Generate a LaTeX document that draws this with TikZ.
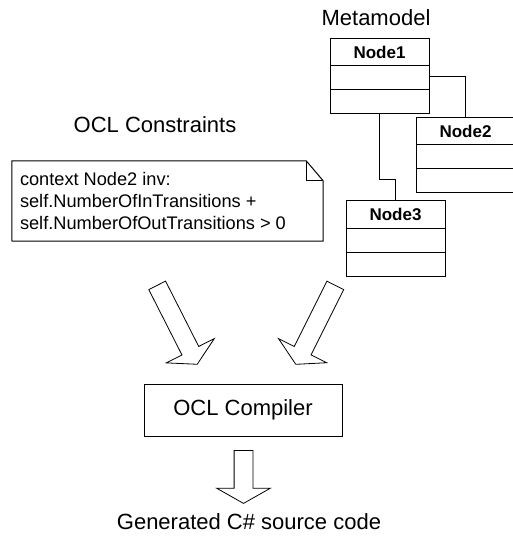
\documentclass[tikz,border=0pt]{standalone}
\usepackage{fontspec}
\setmainfont{Liberation Sans}
\usetikzlibrary{shapes.multipart,shapes.arrows}
\tikzstyle{lbl}=[inner sep=0pt,font=\fontsize{22}{26}\selectfont]
\tikzstyle{cls}=[rectangle split,rectangle split parts=3,draw=black,line width=1pt,minimum width=99pt,inner xsep=4pt,inner ysep=6.8pt,rectangle split empty part height=9.4pt,rectangle split empty part depth=0pt,font=\fontsize{17}{20}\selectfont\bfseries]
\tikzstyle{lnk}=[draw=black,line width=1pt]
\tikzstyle{notebox}=[rectangle,minimum width=311pt,minimum height=80pt,inner sep=0pt]
\tikzstyle{notetxt}=[anchor=west,align=left,inner sep=0pt,font=\fontsize{18.2}{21.7}\selectfont]
\tikzstyle{box}=[rectangle,draw=black,line width=1pt,minimum width=198pt,minimum height=52pt,font=\fontsize{22}{26}\selectfont]
\tikzstyle{harrow}=[single arrow,draw=black,line width=0.8pt,minimum width=0pt,inner xsep=0pt,inner ysep=9pt,single arrow head extend=17.5pt,single arrow tip angle=121,anchor=tail]
\begin{document}
\begin{tikzpicture}[x=1pt,y=-1pt]
\useasboundingbox (0,0) rectangle (513,542);
\node[lbl] (mm) at (376,18) {Metamodel};
\node[cls] (n1) at (379.5,76) {Node1\nodepart{two}\nodepart{three}};
\node[cls] (n2) at (465.5,155) {Node2\nodepart{two}\nodepart{three}};
\node[cls] (n3) at (395.5,238.5) {Node3\nodepart{two}\nodepart{three}};
\draw[lnk] (n1.east) -| (n2.north);
\draw[lnk] (n1.south) -- ++(0,65) -| (n3.north);
\node[lbl] (oc) at (155,125) {OCL Constraints};
\node[notebox] (note) at (167.5,201) {};
\draw[lnk] (note.south west) |- ([xshift=-17pt]note.north east) -- ([yshift=-20pt]note.north east) |- (note.south west);
\draw[lnk] ([xshift=-17pt]note.north east) |- ([yshift=-20pt]note.north east);
\node[notetxt] (ntxt) at ([xshift=8pt]note.west) {context Node2 inv:\\self.NumberOfInTransitions +\\self.NumberOfOutTransitions > 0};
\node[harrow,minimum height=88.5pt,rotate=-63.1] (a1) at (157,285) {};
\node[harrow,minimum height=88.3pt,rotate=-116.6] (a2) at (335.5,285) {};
\node[box] (comp) at (243,410) {OCL Compiler};
\node[harrow,minimum height=53pt,rotate=-90] (a3) at (243.5,450) {};
\node[lbl] (gen) at (249,522) {Generated C\# source code};
\end{tikzpicture}
\end{document}
